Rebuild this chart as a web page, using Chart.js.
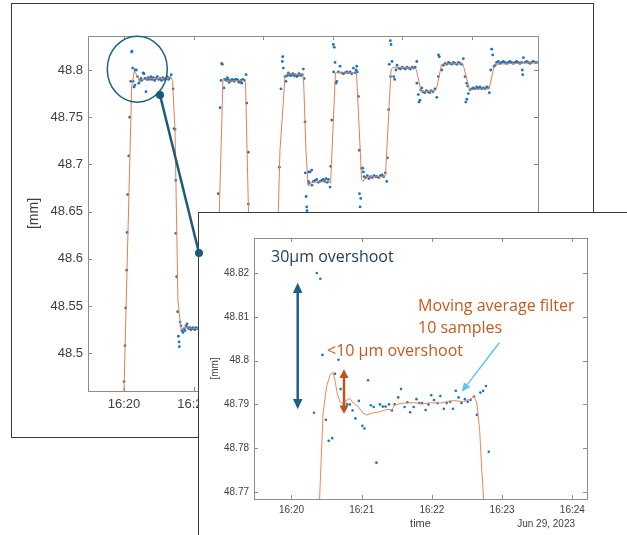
<!DOCTYPE html>
<html>
<head>
<meta charset="utf-8">
<script src="https://cdn.jsdelivr.net/npm/chart.js@4/dist/chart.umd.min.js"></script>
<style>
  html, body { margin: 0; padding: 0; background: #fff; }
  body { position: relative; width: 627px; height: 535px; overflow: hidden; }
  #backPanel { position: absolute; left: 11px; top: 3px; width: 581px; height: 433px; border: 1px solid #3a3a3a; }
  #back { position: absolute; left: 0; top: 0; }
  #frontPanel { position: absolute; left: 198px; top: 212px; width: 440px; height: 340px; border: 1px solid #3a3a3a; background: #fff; }
  #front { position: absolute; left: 0; top: 0; }
  #overlay { position: absolute; left: 0; top: 0; pointer-events: none; }
  .note { position: absolute; white-space: nowrap; transform: translateY(-50%); font-family: "Open Sans", sans-serif; font-size: 16px; line-height: 1; }
  #date { position: absolute; right: 52px; top: 518px; font: 10px "Liberation Sans", Arial, sans-serif; color: #404040; }
</style>
</head>
<body>
<div id="backPanel"></div>
<canvas id="back" width="600" height="440"></canvas>
<div id="frontPanel"><canvas id="front" width="428" height="322"></canvas></div>
<div id="date">Jun 29, 2023</div>
<svg id="overlay" width="627" height="535">
  <ellipse cx="137.3" cy="69.2" rx="30" ry="33" fill="none" stroke="#1f5f7b" stroke-width="1.5"/>
  <line x1="160" y1="95" x2="199" y2="253" stroke="#1b5a78" stroke-width="2.5"/>
  <circle cx="160" cy="95" r="4" fill="#1b5a78"/>
  <circle cx="199" cy="253" r="4" fill="#1b5a78"/>
  <line x1="297.7" y1="291" x2="297.7" y2="401" stroke="#1e5f86" stroke-width="2.5"/>
  <polygon points="297.7,282.7 292.9,293 302.5,293" fill="#1e5f86"/>
  <polygon points="297.7,409.3 292.9,399 302.5,399" fill="#1e5f86"/>
  <line x1="344" y1="377" x2="344" y2="406" stroke="#c0521c" stroke-width="2.5"/>
  <polygon points="344,369.3 339.5,378 348.5,378" fill="#c0521c"/>
  <polygon points="344,414 339.5,405.5 348.5,405.5" fill="#c0521c"/>
  <line x1="499.3" y1="342.7" x2="467.2" y2="384.6" stroke="#5ec4f2" stroke-width="1.5"/>
  <polygon points="461.7,391.7 470.4,387.0 464.0,382.2" fill="#5ec4f2"/>
</svg>
<div class="note" style="left:271px; top:256px; color:#1f3a56">30µm overshoot</div>
<div class="note" style="left:327px; top:350px; color:#c55a1e">&lt;10 µm overshoot</div>
<div class="note" style="left:418px; top:305px; color:#c55a1e">Moving average filter</div>
<div class="note" style="left:418px; top:327px; color:#c55a1e">10 samples</div>
<script>
// time = minutes after 16:00, value = mm
const BACK_T = [
  20.00, 20.07, 20.12, 20.19, 20.22, 20.27, 20.34, 20.41, 20.48, 20.55, 20.58, 20.62, 20.65, 20.72, 20.79, 20.80, 20.89, 20.97, 21.06, 21.15,
  21.22, 21.29, 21.37, 21.44, 21.51, 21.58, 21.65, 21.73, 21.80, 21.87, 21.94, 22.01, 22.10, 22.20, 22.30, 22.40, 22.50, 22.60, 22.70, 22.80,
  22.90, 23.00, 23.10, 23.20, 23.30, 23.40,
  23.53, 23.60, 23.67, 23.72, 23.73, 23.79, 23.86, 23.91, 23.96, 23.98,
  24.03, 24.10, 24.17, 24.24, 24.32, 24.39, 24.46, 24.53, 24.60, 24.67, 24.75, 24.82, 24.89, 24.96, 25.04, 25.11, 25.18, 25.30, 25.50, 25.70,
  25.90, 26.10, 26.30, 26.50,
  26.65, 26.71, 26.78, 26.91, 26.98, 27.03, 27.07, 27.19, 27.27, 27.35, 27.43, 27.50, 27.56, 27.63, 27.70, 27.78, 27.86, 27.93, 28.00, 28.11,
  28.20, 28.27, 28.35, 28.42, 28.47, 28.55, 28.65, 28.78,
  28.83, 28.94, 28.95, 28.99, 29.03, 29.08,
  29.20, 29.40, 29.60, 29.80, 30.00, 30.20, 30.40, 30.60, 30.80,
  30.95, 31.03, 31.17, 31.29, 31.39, 31.42, 31.46, 31.58, 31.65, 31.74, 31.82, 31.90, 31.98, 32.06, 32.14, 32.22, 32.30, 32.42, 32.50, 32.58,
  32.66, 32.74, 32.82, 32.90, 32.95,
  33.02, 33.04, 33.10, 33.14, 33.16,
  33.26, 33.27, 33.31, 33.38, 33.50, 33.52, 33.62, 33.74, 33.86, 33.98, 34.10, 34.22, 34.34, 34.46, 34.53, 34.62, 34.70, 34.82,
  34.87, 34.94, 35.06, 35.13, 35.08, 35.18, 35.25, 35.30, 35.42, 35.54, 35.66, 35.78, 35.90, 36.02, 36.14, 36.26, 36.38, 36.50, 36.62, 36.69,
  36.74, 36.78,
  36.86, 36.93, 36.94, 36.98, 37.03, 37.10, 37.17, 37.22, 37.27,
  37.40, 37.50, 37.62, 37.74, 37.86, 37.98, 38.10, 38.20, 38.32, 38.44, 38.56, 38.68, 38.80, 38.90,
  38.95, 39.04, 39.08, 39.16, 39.21, 39.17, 39.28, 39.40, 39.47, 39.56, 39.64, 39.76, 39.88, 40.00, 40.12, 40.24, 40.36, 40.48, 40.60, 40.72,
  40.84, 40.94, 41.06,
  41.07, 41.17, 41.22, 41.29, 41.34, 41.42, 41.50, 41.62, 41.74, 41.86, 41.98, 42.10, 42.22, 42.37, 42.50,
  42.61, 42.62, 42.68, 42.86, 42.97, 43.10, 43.22, 43.34, 43.46, 43.58, 43.70, 43.82, 43.94, 44.06, 44.18, 44.30, 44.41,
  44.53, 44.58, 44.65, 44.66, 44.73, 44.77, 44.89, 45.01, 45.13, 45.25, 45.37, 45.49, 45.61, 45.73, 45.85, 45.97, 46.09, 46.21, 46.28,
  46.38, 46.45, 46.52, 46.62, 46.69, 46.80, 46.92, 47.04, 47.16, 47.28, 47.40, 47.52, 47.64, 47.76, 47.88, 48.00, 48.12, 48.24, 48.36, 48.48,
  48.60, 48.65, 48.68, 48.73, 48.84, 48.96, 49.08, 49.20, 49.32, 49.44, 49.56, 49.68,
];
const BACK_V = [
  48.470, 48.508, 48.548, 48.588, 48.628, 48.668, 48.709, 48.750, 48.788, 48.819, 48.820, 48.802, 48.788, 48.782, 48.784, 48.800, 48.800, 48.793, 48.786, 48.789,
  48.791, 48.789, 48.797, 48.796, 48.791, 48.777, 48.790, 48.792, 48.790, 48.791, 48.793, 48.790, 48.792, 48.789, 48.791, 48.793, 48.790, 48.791, 48.789, 48.792,
  48.790, 48.791, 48.793, 48.790, 48.792, 48.795,
  48.780, 48.738, 48.737, 48.683, 48.627, 48.581, 48.544, 48.518, 48.512, 48.507,
  48.533, 48.529, 48.524, 48.522, 48.526, 48.524, 48.529, 48.531, 48.527, 48.526, 48.527, 48.525, 48.526, 48.527, 48.526, 48.525, 48.527, 48.526, 48.527, 48.525,
  48.526, 48.527, 48.526, 48.525,
  48.550, 48.610, 48.669, 48.760, 48.789, 48.807, 48.806, 48.781, 48.790, 48.789, 48.792, 48.790, 48.787, 48.788, 48.789, 48.790, 48.789, 48.788, 48.790, 48.790,
  48.789, 48.787, 48.788, 48.789, 48.786, 48.790, 48.789, 48.795,
  48.765, 48.713, 48.658, 48.600, 48.550, 48.520,
  48.523, 48.525, 48.524, 48.526, 48.525, 48.524, 48.526, 48.525, 48.524,
  48.550, 48.610, 48.697, 48.780, 48.809, 48.814, 48.802, 48.793, 48.788, 48.794, 48.797, 48.795, 48.794, 48.795, 48.796, 48.794, 48.795, 48.793, 48.794, 48.796,
  48.795, 48.794, 48.795, 48.801, 48.791,
  48.745, 48.691, 48.666, 48.655, 48.651,
  48.692, 48.682, 48.680, 48.692, 48.694, 48.678, 48.682, 48.683, 48.684, 48.681, 48.682, 48.683, 48.684, 48.682, 48.685, 48.681, 48.684, 48.676,
  48.698, 48.747, 48.827, 48.824, 48.798, 48.808, 48.786, 48.788, 48.798, 48.804, 48.797, 48.796, 48.797, 48.798, 48.797, 48.798, 48.796, 48.802, 48.797, 48.800,
  48.804, 48.798,
  48.772, 48.715, 48.669, 48.655, 48.664, 48.696, 48.696, 48.692, 48.687,
  48.686, 48.688, 48.685, 48.687, 48.686, 48.688, 48.687, 48.687, 48.686, 48.688, 48.689, 48.687, 48.691, 48.682,
  48.707, 48.758, 48.806, 48.831, 48.827, 48.793, 48.809, 48.793, 48.790, 48.800, 48.805, 48.802, 48.801, 48.803, 48.802, 48.801, 48.803, 48.802, 48.801, 48.803,
  48.802, 48.803, 48.809,
  48.786, 48.774, 48.766, 48.768, 48.779, 48.781, 48.777, 48.776, 48.778, 48.777, 48.776, 48.778, 48.777, 48.780, 48.771,
  48.793, 48.816, 48.814, 48.800, 48.805, 48.807, 48.806, 48.808, 48.807, 48.806, 48.808, 48.807, 48.806, 48.808, 48.807, 48.806, 48.812,
  48.793, 48.766, 48.786, 48.769, 48.783, 48.775, 48.779, 48.780, 48.781, 48.780, 48.782, 48.781, 48.782, 48.780, 48.781, 48.780, 48.782, 48.781, 48.776,
  48.800, 48.822, 48.816, 48.804, 48.805, 48.808, 48.809, 48.807, 48.808, 48.809, 48.808, 48.807, 48.808, 48.809, 48.808, 48.807, 48.808, 48.809, 48.808, 48.807,
  48.808, 48.800, 48.795, 48.813, 48.808, 48.809, 48.808, 48.807, 48.808, 48.809, 48.808, 48.808,
];
// moving-average trace (vertices)
const BACK_LINE_T = [
  19.98, 20.55, 20.74, 20.94, 21.08, 21.87, 22.59, 23.38, 23.49, 23.67, 23.88, 24.10, 24.32, 26.62, 27.12, 27.34, 28.63, 28.74, 28.96, 29.06,
  31.02, 31.10, 31.22, 31.47, 31.58, 31.73, 32.81, 32.91, 33.09, 33.24, 33.45, 34.75, 34.86, 35.21, 35.40, 36.62, 36.73, 37.09, 37.19, 37.41,
  38.70, 38.81, 39.21, 39.35, 40.94, 41.04, 41.37, 42.37, 42.48, 42.84, 44.32, 44.42, 44.86, 46.19, 46.29, 46.65, 49.78,
];
const BACK_LINE_V = [
  48.450, 48.782, 48.799, 48.794, 48.789, 48.791, 48.791, 48.792, 48.789, 48.736, 48.556, 48.525, 48.527, 48.525, 48.791, 48.788, 48.789, 48.787, 48.646, 48.525,
  48.525, 48.650, 48.715, 48.768, 48.794, 48.796, 48.795, 48.793, 48.715, 48.677, 48.681, 48.682, 48.680, 48.797, 48.797, 48.797, 48.796, 48.684, 48.682, 48.687,
  48.687, 48.689, 48.800, 48.803, 48.802, 48.800, 48.777, 48.778, 48.780, 48.806, 48.807, 48.804, 48.779, 48.780, 48.782, 48.806, 48.808,
];

const FRONT_T = [
  20.32, 20.36, 20.41, 20.44, 20.49, 20.53, 20.58, 20.62, 20.67, 20.70, 20.79, 20.83, 20.87, 20.91, 20.96, 21.01, 21.04, 21.09, 21.13, 21.17,
  21.21, 21.26, 21.30, 21.34, 21.39, 21.43, 21.47, 21.52, 21.56, 21.61, 21.65, 21.69, 21.74, 21.78, 21.82, 21.86, 21.91, 21.95, 21.99, 22.03,
  22.08, 22.12, 22.17, 22.21, 22.26, 22.30, 22.34, 22.38, 22.42, 22.47, 22.51, 22.55, 22.60, 22.64, 22.69, 22.73, 22.77, 22.81,
];
const FRONT_V = [
  48.7881, 48.8200, 48.8187, 48.8013, 48.7865, 48.7817, 48.7823, 48.7970, 48.8002, 48.7935, 48.7900, 48.7900, 48.7886, 48.7868, 48.7908, 48.7851, 48.7845, 48.7955, 48.7898, 48.7894,
  48.7767, 48.7900, 48.7895, 48.7895, 48.7900, 48.7886, 48.7900, 48.7916, 48.7935, 48.7894, 48.7905, 48.7882, 48.7894, 48.7912, 48.7903, 48.7903, 48.7887, 48.7900, 48.7921, 48.7910,
  48.7903, 48.7919, 48.7890, 48.7903, 48.7906, 48.7890, 48.7931, 48.7916, 48.7903, 48.7912, 48.7906, 48.7910, 48.7918, 48.7876, 48.7927, 48.7931, 48.7942, 48.7792,
];
const FRONT_LINE_T = [
  20.38, 20.40, 20.45, 20.50, 20.55, 20.59, 20.62, 20.65, 20.69, 20.74, 20.79, 20.83, 20.88, 20.95, 21.02, 21.07, 21.17, 21.26, 21.36, 21.43,
  21.47, 21.59, 21.74, 21.86, 21.97, 22.12, 22.31, 22.45, 22.57, 22.60, 22.64, 22.68, 22.71, 22.75,
];
const FRONT_LINE_V = [
  48.7600, 48.7684, 48.7880, 48.7941, 48.7967, 48.7973, 48.7955, 48.7926, 48.7906, 48.7900, 48.7910, 48.7914, 48.7903, 48.7895, 48.7880, 48.7876, 48.7881, 48.7883, 48.7889, 48.7887,
  48.7899, 48.7903, 48.7904, 48.7901, 48.7904, 48.7903, 48.7909, 48.7906, 48.7914, 48.7919, 48.7903, 48.7842, 48.7750, 48.7650,
];

const pts = (t, v) => t.map((x, i) => ({ x, y: v[i] }));
const num = (v) => String(+v.toFixed(3));
const clock = (v) => `16:${Math.round(v)}`;

Chart.defaults.font.family = "'Liberation Sans', Arial, sans-serif";
Chart.defaults.color = "#404040";

// MATLAB-style box: frame plus inward tick marks on all four sides
const frame = {
  id: "frame",
  beforeDatasetsDraw(chart, args, o) {
    const { ctx, chartArea: a, scales: { x, y } } = chart;
    ctx.save();
    ctx.strokeStyle = o.color;
    ctx.lineWidth = 1;
    ctx.beginPath();
    for (const t of x.ticks) {
      const p = Math.round(x.getPixelForValue(t.value)) + 0.5;
      ctx.moveTo(p, a.top); ctx.lineTo(p, a.top + o.len);
      ctx.moveTo(p, a.bottom); ctx.lineTo(p, a.bottom - o.len);
    }
    for (const t of y.ticks) {
      const p = Math.round(y.getPixelForValue(t.value)) + 0.5;
      ctx.moveTo(a.left, p); ctx.lineTo(a.left + o.len, p);
      ctx.moveTo(a.right, p); ctx.lineTo(a.right - o.len, p);
    }
    ctx.stroke();
    ctx.strokeRect(Math.round(a.left) + 0.5, Math.round(a.top) + 0.5, Math.round(a.width), Math.round(a.height));
    ctx.restore();
  },
};

function makeChart(id, cfg) {
  return new Chart(document.getElementById(id), {
    type: "scatter",
    data: {
      datasets: [
        { data: pts(cfg.lineT, cfg.lineV), showLine: true, borderColor: cfg.lineColor, borderWidth: 1, pointRadius: 0, tension: 0 },
        { data: pts(cfg.t, cfg.v), pointRadius: cfg.dot, pointBorderWidth: 0, backgroundColor: "#1c74bd" },
      ],
    },
    options: {
      responsive: false,
      animation: false,
      layout: { padding: cfg.pad },
      plugins: { legend: { display: false }, tooltip: { enabled: false }, frame: { color: "#8c8c8c", len: cfg.tick } },
      scales: {
        x: {
          type: "linear", min: cfg.x[0], max: cfg.x[1],
          grid: { display: false, drawTicks: false }, border: { display: false },
          ticks: { stepSize: cfg.x[2], includeBounds: false, autoSkip: false, maxRotation: 0, padding: cfg.xPad, font: { size: cfg.font }, callback: clock },
          title: cfg.xTitle ? { display: true, text: cfg.xTitle, font: { size: 11 }, padding: { top: 0, bottom: 4 } } : { display: false },
          afterFit: (s) => { s.height = cfg.xH; },
        },
        y: {
          min: cfg.y[0], max: cfg.y[1],
          grid: { display: false, drawTicks: false }, border: { display: false },
          ticks: { stepSize: cfg.y[2], includeBounds: false, padding: 5, font: { size: cfg.font }, callback: num },
          title: { display: true, text: "[mm]", font: { size: cfg.yTitleSize }, padding: 0 },
          afterFit: (s) => { s.width = cfg.yW; },
        },
      },
    },
    plugins: [frame],
  });
}

makeChart("back", {
  t: BACK_T, v: BACK_V, lineT: BACK_LINE_T, lineV: BACK_LINE_V, lineColor: "#e67e50", dot: 1.4,
  x: [17.41, 49.78, 5], y: [48.46, 48.836, 0.05], pad: { left: 26, top: 36, right: 62, bottom: 19 },
  xH: 30, yW: 62, xPad: 6, font: 13, yTitleSize: 14, tick: 4,
});

makeChart("front", {
  t: FRONT_T, v: FRONT_V, lineT: FRONT_LINE_T, lineV: FRONT_LINE_V, lineColor: "#ec875a", dot: 1.3,
  x: [19.466, 24.209, 1], y: [48.7684, 48.828, 0.01], pad: { left: 10, top: 25, right: 40, bottom: 0 },
  xH: 36, yW: 45, xPad: 5, font: 10, yTitleSize: 10, tick: 4, xTitle: "time",
});
</script>
</body>
</html>
